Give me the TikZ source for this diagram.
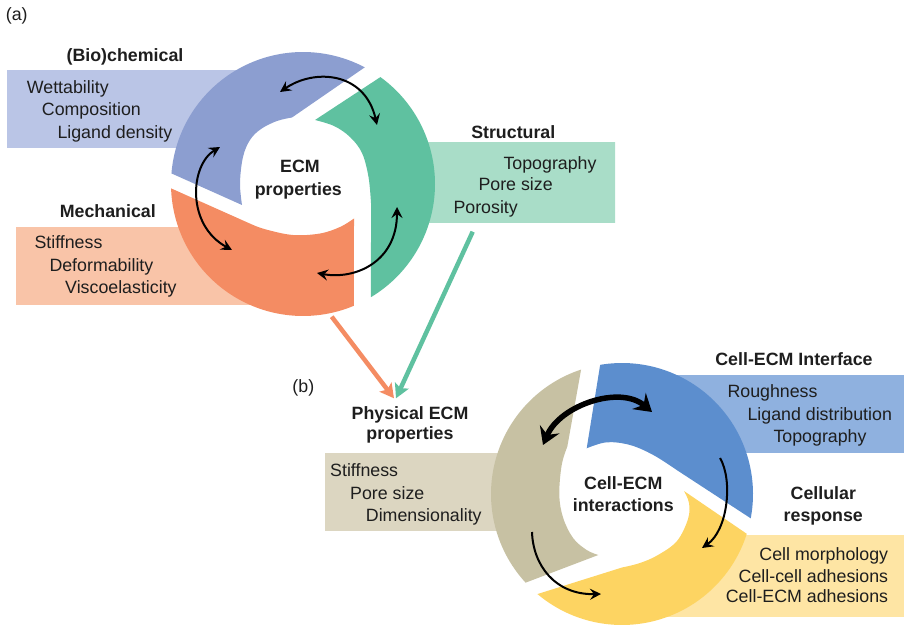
\documentclass[tikz,border=0pt]{standalone}
\usepackage{fontspec}
\setmainfont{Liberation Sans}
\usetikzlibrary{arrows.meta,calc}
\definecolor{segBa}{HTML}{8C9ED0}
\definecolor{boxBa}{HTML}{BAC5E6}
\definecolor{segOr}{HTML}{F48C63}
\definecolor{boxOr}{HTML}{F9C4A8}
\definecolor{segGr}{HTML}{5FC1A0}
\definecolor{boxGr}{HTML}{A9DDC8}
\definecolor{segBe}{HTML}{C7C1A3}
\definecolor{boxBe}{HTML}{DCD6C1}
\definecolor{segBb}{HTML}{5C8ECE}
\definecolor{boxBb}{HTML}{8FB1DF}
\definecolor{segYe}{HTML}{FDD462}
\definecolor{boxYe}{HTML}{FEE5A4}
\definecolor{txtc}{HTML}{1E1E1E}
\newcommand\lblfont{\fontsize{17.8}{21}\selectfont}
\newcommand\ringbox[5]{% color, x1,y1,x2,y2 ; ring centre \ringc, radius \ringr
  \begin{scope}
    \clip (#2,#3) rectangle (#4,#5);
    \fill[#1, even odd rule] (0,0) rectangle (904,628) (\ringc) circle[radius=\ringr];
  \end{scope}}
\begin{document}
\begin{tikzpicture}[x=1pt,y=-1pt,
  lbl/.style={font=\lblfont, text=txtc, inner sep=0pt},
  lw/.style={lbl, anchor=base west},
  le/.style={lbl, anchor=base east},
  hd/.style={lbl, font=\lblfont\bfseries, anchor=base},
  dbl/.style={draw=black, line width=2pt,
    arrows={Stealth[length=11pt,width=11pt,inset=4pt]-Stealth[length=11pt,width=11pt,inset=4pt]}},
  sgl/.style={draw=black, line width=2pt,
    arrows={-Stealth[length=11pt,width=11pt,inset=4pt]}},
  thick2/.style={draw=black, line width=5.5pt,
    arrows={Stealth[length=17pt,width=21pt,inset=6pt]-Stealth[length=17pt,width=21pt,inset=6pt]}},
  conn/.style={line width=4.5pt, arrows={-Stealth[length=14pt,width=15pt,inset=3pt]}}
]
\useasboundingbox (0,0) rectangle (904,628);

% ---------------- (a) ----------------
\coordinate (Oa) at (303,184);
\def\ringc{Oa}\def\ringr{128}
% boxes (hidden behind the ring)
\ringbox{boxBa}{7}{71}{300}{148}
\ringbox{boxOr}{16}{228}{300}{304}
\ringbox{boxGr}{300}{143}{615}{223}
% segments
\fill[segBa] ($(Oa)+(184.6:132)$) arc[start angle=184.6,end angle=297.9,radius=132]
  -- (292,117.5) -- plot[smooth,tension=0.6] coordinates {(292,117.5) (277,121) (261,129) (250,140) (243,157) (240,183) (242,205)} -- cycle;
\fill[segGr] ($(Oa)+(305.9:132)$) arc[start angle=305.9,end angle=419,radius=132]
  -- (371,203) -- plot[smooth,tension=0.6] coordinates {(371,203) (368.5,177) (362,153) (350,137) (334,126) (315,120)} -- cycle;
\fill[segOr] ($(Oa)+(67.3:132)$) arc[start angle=67.3,end angle=178.1,radius=132]
  -- (252,224.5) -- plot[smooth,tension=0.6] coordinates {(252,224.5) (266,229.5) (293,235) (320,233.5) (340,227) (354,218.5)} -- cycle;
% cycle arrows
\coordinate (a1s) at (280,92);   \coordinate (a1e) at (377,125);
\coordinate (a2s) at (220,147);  \coordinate (a2e) at (232,250);
\coordinate (a3s) at (317,273);  \coordinate (a3e) at (397,207);
\draw[dbl] (a1s) .. controls (315,68) and (365,72) .. (a1e);
\draw[dbl] (a2s) .. controls (190,165) and (186,225) .. (a2e);
\draw[dbl] (a3s) .. controls (355,280) and (397,262) .. (a3e);
% texts
\node[lbl, anchor=base] (la) at (16.7,21) {(a)};
\node[hd] (hBio) at (125,62) {(Bio)chemical};
\node[lw] (tWet) at (26.7,93.3) {Wettability};
\node[lw] (tCom) at (41.7,115.3) {Composition};
\node[lw] (tLig) at (57.3,138.3) {Ligand density};
\node[hd] (hMec) at (107.8,217.7) {Mechanical};
\node[lw] (tSti) at (34.3,248.3) {Stiffness};
\node[lw] (tDef) at (49.3,271) {Deformability};
\node[lw] (tVis) at (65,293.3) {Viscoelasticity};
\node[hd] (hStr) at (513.3,138.7) {Structural};
\node[lw] (tTop) at (503.3,169.3) {Topography};
\node[lw] (tPor) at (478.3,191) {Pore size};
\node[lw] (tPoy) at (453.3,213.3) {Porosity};
\node[hd] (hE1) at (300,172.7) {ECM};
\node[hd] (hE2) at (298.3,195.3) {properties};

% connectors
\coordinate (c1s) at (331.7,316.7); \coordinate (c1e) at (394,398.3);
\coordinate (c2s) at (472.7,231.7); \coordinate (c2e) at (396,398.3);
\draw[conn, draw=segOr, fill=segOr] (c1s) -- (c1e);
\draw[conn, draw=segGr, fill=segGr] (c2s) -- (c2e);

% ---------------- (b) ----------------
\coordinate (Ob) at (622,494);
\def\ringc{Ob}\def\ringr{127}
\ringbox{boxBe}{325}{453}{620}{530}
\ringbox{boxBb}{620}{375}{904}{452}
\ringbox{boxYe}{620}{535}{904}{616}
\fill[segBe] ($(Ob)+(137.4:131)$) arc[start angle=137.4,end angle=251.8,radius=131]
  -- (567.3,446.7) -- plot[smooth,tension=0.6] coordinates {(567.3,446.7) (561.7,465) (559.3,495) (563.3,518.3) (573.3,538.3) (586.7,550) (598.3,555)} -- cycle;
\fill[segBb] ($(Ob)+(260.4:131)$) arc[start angle=260.4,end angle=370.7,radius=131]
  -- (676.7,470) -- plot[smooth,tension=0.6] coordinates {(676.7,470) (653.3,455) (630,445) (606.7,442.3) (586.7,448.3)} -- cycle;
\fill[segYe] ($(Ob)+(17.7:131)$) arc[start angle=17.7,end angle=130.2,radius=131]
  -- (622,567.5) -- plot[smooth,tension=0.6] coordinates {(622,567.5) (640,563) (658,555) (677,541) (688,519) (689,503) (684,491)} -- cycle;
% arrows
\coordinate (b1s) at (543,445); \coordinate (b1e) at (652,412);
\coordinate (b2s) at (720,458); \coordinate (b2e) at (702,548);
\coordinate (b3s) at (532,532); \coordinate (b3e) at (601,594);
\draw[thick2] (b1s) .. controls (560,405) and (620,385) .. (b1e);
\draw[sgl] (b2s) .. controls (733,480) and (728,530) .. (b2e);
\draw[sgl] (b3s) .. controls (533,565) and (555,595) .. (b3e);
% texts
\node[lbl, anchor=base] (lb) at (303.3,392.7) {(b)};
\node[hd] (hP1) at (410,419.3) {Physical ECM};
\node[hd] (hP2) at (410,439.3) {properties};
\node[lw] (tSti2) at (330,476.7) {Stiffness};
\node[lw] (tPor2) at (350,499.3) {Pore size};
\node[lw] (tDim) at (365.7,521) {Dimensionality};
\node[hd] (hC1) at (623.3,489.3) {Cell-ECM};
\node[hd] (hC2) at (623.3,511) {interactions};
\node[hd] (hInt) at (794,365.3) {Cell-ECM Interface};
\node[lw] (tRou) at (727.3,397.7) {Roughness};
\node[lw] (tLd) at (747.3,420) {Ligand distribution};
\node[lw] (tTop2) at (773.3,442) {Topography};
\node[hd] (hR1) at (823.3,499.3) {Cellular};
\node[hd] (hR2) at (823.3,521) {response};
\node[le] (tMor) at (888.3,560) {Cell morphology};
\node[le] (tCc) at (888.3,582) {Cell-cell adhesions};
\node[le] (tCe) at (888.3,602.7) {Cell-ECM adhesions};
\end{tikzpicture}
\end{document}
